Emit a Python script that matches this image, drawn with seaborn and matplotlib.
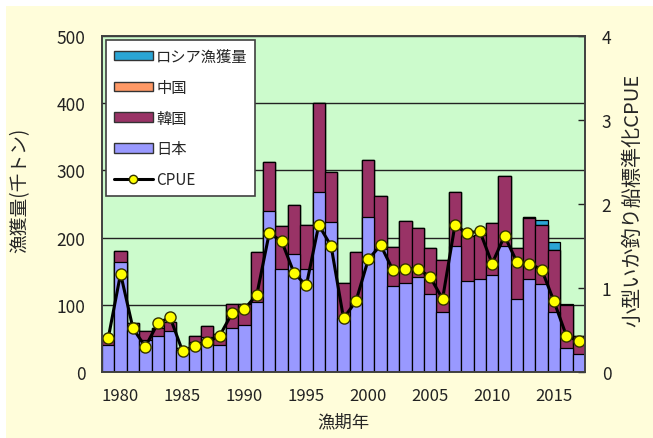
import numpy as np
import matplotlib.pyplot as plt
import matplotlib.patches as mpatches
import matplotlib.lines as mlines
import seaborn as sns

sns.set_theme(style="white")
plt.rcParams['font.family'] = ['Noto Sans CJK JP', 'DejaVu Sans']

# %% data
years = list(range(1979, 2018))
japan = [40, 163, 62, 47, 54, 61, 32, 45, 52, 40, 66, 70, 104, 240, 153, 176, 153, 268, 223, 80,
         105, 230, 183, 128, 133, 141, 116, 89, 188, 136, 138, 144, 188, 109, 138, 131, 89, 35, 27]
korea = [10, 17, 11, 14, 11, 13, 4, 9, 17, 17, 35, 31, 75, 72, 65, 73, 66, 133, 74, 53,
         73, 86, 79, 58, 91, 73, 69, 77, 80, 66, 66, 78, 103, 75, 91, 88, 93, 65, 26]
china = [0] * 34 + [2, 0, 0, 0, 0]
russia = [0] * 35 + [7, 11, 1, 0]
cpue = [0.40, 1.17, 0.52, 0.30, 0.58, 0.65, 0.25, 0.31, 0.36, 0.43, 0.70, 0.75, 0.92, 1.65, 1.56,
        1.18, 1.03, 1.75, 1.50, 0.64, 0.84, 1.34, 1.51, 1.21, 1.23, 1.23, 1.13, 0.87, 1.75, 1.65,
        1.68, 1.29, 1.62, 1.31, 1.29, 1.22, 0.84, 0.43, 0.37]

COL_JP = "#9999FF"
COL_KR = "#993366"
COL_CN = "#FF9966"
COL_RU = "#2AA5D5"
BG_FIG = "#FFFDDA"
BG_AX = "#CCFBCC"

# %% figure
fig = plt.figure(figsize=(6.53, 4.39), dpi=100, facecolor="white")
fig.patches.append(mpatches.Rectangle((6 / 653, 0), 1, 1 - 7 / 439, transform=fig.transFigure,
                                      facecolor=BG_FIG, edgecolor="none", zorder=-10))
ax = fig.add_axes([102 / 653, 66 / 439, 483 / 653, 336 / 439])
ax.set_facecolor(BG_AX)

labels = [str(y) for y in years]
jp = np.array(japan)
kr = jp + np.array(korea)
cn = kr + np.array(china)
ru = cn + np.array(russia)

for vals, col in [(ru, COL_RU), (cn, COL_CN), (kr, COL_KR), (jp, COL_JP)]:
    sns.barplot(x=labels, y=vals, color=col, width=1.0, edgecolor="black",
                linewidth=0.9, saturation=1, ax=ax)

ax.set_ylim(0, 500)
ax.set_yticks(range(0, 501, 100))
ax.yaxis.grid(True, color="#222222", linewidth=1.0)
ax.set_axisbelow(True)
ax.set_xlim(-0.5, len(years) - 0.5)
ax.set_xticks([y - 1979 for y in range(1980, 2016, 5)])
ax.set_xticklabels([str(y) for y in range(1980, 2016, 5)])
ax.set_xticks(np.arange(-0.5, len(years), 1), minor=True)
ax.tick_params(axis="x", which="major", length=0, pad=11, labelsize=12, colors="#222222")
ax.tick_params(axis="x", which="minor", length=5, width=1, direction="out", color="black")
ax.tick_params(axis="y", length=0, pad=12, labelsize=12.5, colors="#222222")
ax.set_xlabel("漁期年", fontsize=12.5, labelpad=6)
ax.set_ylabel("漁獲量(千トン)", fontsize=13.5)
ax.yaxis.set_label_coords(-0.148, 0.545)
for s in ax.spines.values():
    s.set_color("#404040")
    s.set_linewidth(1.2)

# %% CPUE on the right axis
ax2 = ax.twinx()
sns.pointplot(x=labels, y=cpue, ax=ax2, color="black", markers="o", errorbar=None,
              linewidth=2.2, markersize=8, markerfacecolor="#FFFF00",
              markeredgecolor="#333300", markeredgewidth=1.0)
ax2.set_ylim(0, 4)
ax2.set_xlim(-0.5, len(years) - 0.5)
ax2.set_yticks([0, 1, 2, 3, 4])
ax2.tick_params(axis="y", direction="in", length=5, width=1, pad=12, labelsize=12.5,
                colors="#222222")
ax2.set_ylabel("小型いか釣り船標準化CPUE", fontsize=14.5)
ax2.yaxis.set_label_coords(1.078, 0.515)
ax2.grid(False)
for s in ax2.spines.values():
    s.set_color("#404040")
    s.set_linewidth(1.2)

# %% legend
handles = [mpatches.Patch(facecolor=COL_RU, edgecolor="#333333", label="ロシア漁獲量"),
           mpatches.Patch(facecolor=COL_CN, edgecolor="#333333", label="中国"),
           mpatches.Patch(facecolor=COL_KR, edgecolor="#333333", label="韓国"),
           mpatches.Patch(facecolor=COL_JP, edgecolor="#333333", label="日本"),
           mlines.Line2D([], [], color="black", linewidth=2.2, marker="o", markersize=6,
                         markerfacecolor="#FFFF00", markeredgecolor="#333300", label="CPUE")]
leg = ax2.legend(handles=handles, loc="upper left", bbox_to_anchor=(0.008, 0.987),
                 fontsize=11, frameon=True, fancybox=False, framealpha=1,
                 handlelength=2.6, handleheight=0.6, handletextpad=0.2,
                 labelspacing=0.9, borderpad=0.5, borderaxespad=0.0)
leg.get_frame().set_edgecolor("#404040")
leg.get_frame().set_linewidth(1.2)

fig.savefig("out.png", dpi=100, facecolor=fig.get_facecolor())
